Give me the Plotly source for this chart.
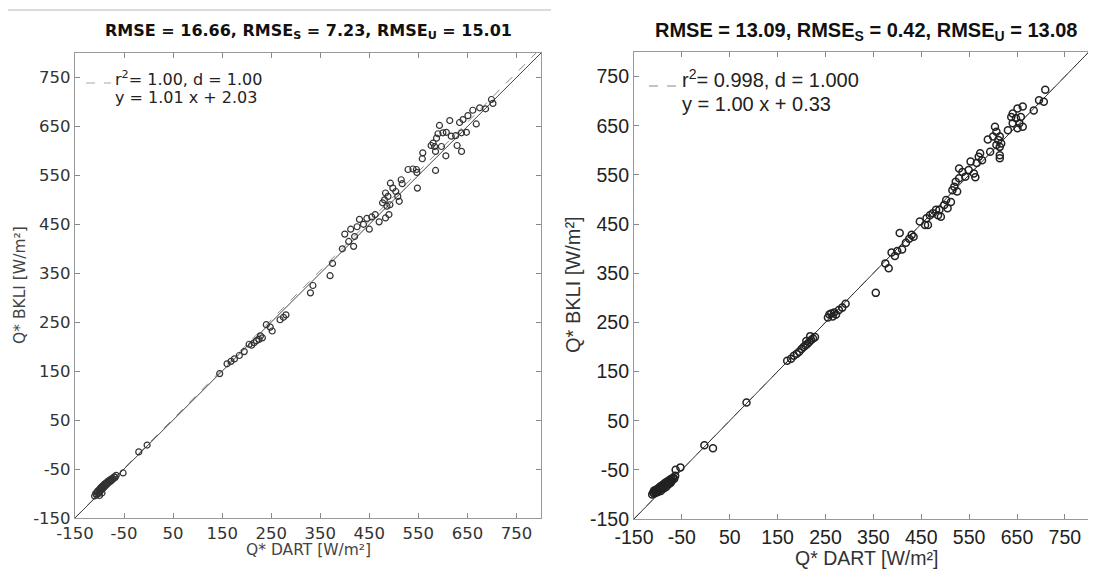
import plotly.graph_objects as go

# ---------------- data ----------------
tick_vals = [-150, -50, 50, 150, 250, 350, 450, 550, 650, 750]
tick_text = ["-150", "-50", "50", "150", "250", "350", "450", "550", "650", "750"]

left_x = [-110, -108, -106, -105, -104, -102, -101, -100, -99, -98, -97, -96, -95, -94, -93, -92, -91, -90,
          -89, -88, -87, -86, -85, -84, -83, -82, -80, -79, -77, -76, -74, -72, -70, -68, -66, -100, -95,
          -52, -20, -3,
          145, 160, 168, 175, 185, 195, 205, 210, 215, 220, 225, 228, 232, 240, 248, 252, 268, 275, 280,
          330, 335, 370, 375,
          395, 400, 408, 412, 418, 420, 425, 430, 438, 445, 450, 455, 462, 470,
          699, 702, 687, 675, 661, 651, 641, 634, 614, 593, 668, 648, 638, 626, 617, 607, 600, 590, 587,
          580, 576, 583, 597, 585, 606, 629, 638, 559, 558, 585, 529, 539, 546, 547, 548, 515, 517, 493,
          498, 504, 508, 511, 483, 488, 481, 477, 492, 486, 490, 483]
left_y = [-105, -100, -103, -98, -95, -100, -93, -97, -90, -94, -88, -92, -86, -90, -84, -88, -82, -86,
          -80, -84, -79, -82, -77, -80, -75, -78, -73, -76, -71, -74, -69, -70, -66, -67, -63, -104, -99,
          -58, -15, -1,
          145, 165, 170, 175, 182, 190, 205, 203, 208, 212, 215, 222, 218, 245, 240, 232, 255, 260, 265,
          310, 325, 345, 370,
          400, 430, 415, 440, 405, 425, 445, 460, 450, 462, 440, 465, 470, 455,
          705, 697, 686, 688, 683, 672, 664, 658, 662, 652, 655, 638, 637, 631, 630, 638, 637, 635, 626,
          616, 611, 609, 609, 599, 590, 611, 599, 596, 584, 560, 562, 563, 562, 556, 524, 541, 533, 534,
          524, 517, 507, 497, 514, 507, 500, 494, 490, 487, 470, 463]

right_x = [-112, -110, -108, -106, -105, -103, -102, -100, -99, -97, -96, -95, -93, -92, -90, -89, -88,
           -86, -85, -84, -82, -81, -80, -78, -77, -75, -74, -72, -70, -68, -66, -64, -108, -100, -94,
           -88, -83, -78, -73,
           -63, -53, -3, 15, 85,
           170, 178, 184, 190, 195, 200, 204, 208, 212, 216, 220, 224, 228, 218, 210,
           255, 258, 262, 265, 268, 272, 278, 285, 292,
           355, 375, 382, 388, 395, 400, 405, 410, 418, 425, 430,
           709, 696, 706, 685, 662, 651, 641, 638, 648, 658, 655, 651, 662, 641, 631,
           604, 607, 614, 611, 617, 607, 614, 600, 589, 594, 614, 614, 573, 577, 570, 566, 553,
           529, 536, 549, 560, 563, 542, 529, 522, 519, 515, 525,
           502, 512, 498, 505, 488, 481, 474, 485, 491, 468, 461, 447, 458, 464, 434]
right_y = [-100, -96, -98, -93, -97, -90, -94, -88, -92, -86, -90, -84, -88, -82, -86, -80, -84,
           -78, -82, -76, -80, -74, -78, -72, -76, -70, -74, -68, -71, -66, -68, -62, -92, -95, -93,
           -88, -85, -80, -76,
           -50, -45, 0, -6, 87,
           172, 176, 182, 186, 190, 196, 200, 203, 206, 210, 214, 217, 220, 222, 212,
           260, 266, 268, 262, 270, 266, 275, 280, 288,
           310, 370, 360, 392, 385, 395, 432, 398, 412, 420, 428,
           723, 702, 699, 681, 689, 685, 675, 668, 665, 668, 655, 645, 648, 655, 641,
           648, 638, 628, 621, 614, 611, 607, 628, 622, 597, 590, 584, 594, 580, 587, 574, 577,
           563, 556, 560, 553, 545, 546, 543, 536, 526, 519, 516,
           499, 495, 489, 482, 479, 479, 472, 468, 465, 468, 462, 455, 448, 448, 424]

left_fit = (1.01, 2.03)
right_fit = (1.00, 0.33)
line_x = [-150, 820]

left_title = "RMSE = 16.66, RMSE<sub>S</sub> = 7.23, RMSE<sub>U</sub> = 15.01"
right_title = "RMSE = 13.09, RMSE<sub>S</sub> = 0.42, RMSE<sub>U</sub> = 13.08"
left_stats = ["r<sup>2</sup>= 1.00, d = 1.00", "y = 1.01 x + 2.03"]
right_stats = ["r<sup>2</sup>= 0.998, d = 1.000", "y = 1.00 x + 0.33"]
x_label = "Q* DART [W/m²]"
y_label = "Q* BKLI [W/m²]"

# ---------------- figure ----------------
# page body has an 8px margin; size the figure so that the page does not scroll
OFF = 8
W, H = 1096 - OFF, 578 - 2 * OFF
def px(x): return (x - OFF) / W
def py(y): return (H - (y - OFF)) / H

fig = go.Figure()

fig.add_trace(go.Scatter(x=line_x, y=[left_fit[0] * v + left_fit[1] for v in line_x], mode="lines",
                         line=dict(color="#8a8a8a", width=1, dash="dash"), xaxis="x", yaxis="y",
                         showlegend=False, hoverinfo="skip"))
fig.add_trace(go.Scatter(x=line_x, y=line_x, mode="lines", line=dict(color="#444", width=1),
                         xaxis="x", yaxis="y", showlegend=False, hoverinfo="skip"))
fig.add_trace(go.Scatter(x=left_x, y=left_y, mode="markers", xaxis="x", yaxis="y", showlegend=False,
                         marker=dict(symbol="circle-open", size=6, color="#333", line=dict(width=1.2))))

fig.add_trace(go.Scatter(x=line_x, y=[right_fit[0] * v + right_fit[1] for v in line_x], mode="lines",
                         line=dict(color="#8a8a8a", width=1, dash="dash"), xaxis="x2", yaxis="y2",
                         showlegend=False, hoverinfo="skip"))
fig.add_trace(go.Scatter(x=line_x, y=line_x, mode="lines", line=dict(color="#333", width=1),
                         xaxis="x2", yaxis="y2", showlegend=False, hoverinfo="skip"))
fig.add_trace(go.Scatter(x=right_x, y=right_y, mode="markers", xaxis="x2", yaxis="y2", showlegend=False,
                         marker=dict(symbol="circle-open", size=7, color="#222", line=dict(width=1.5))))

def ax(domain, rng, font, anchor, mirror="ticks"):
    return dict(domain=domain, range=rng, tickvals=tick_vals, ticktext=tick_text, anchor=anchor,
                ticks="inside", ticklen=5, tickcolor="#888", showline=True, linecolor="#999",
                linewidth=1.2, mirror=mirror, showgrid=False, zeroline=False, tickfont=font,
                automargin=False, ticklabeloverflow="allow")

lfont = dict(family="DejaVu Sans", size=16.5, color="#333")
rfont = dict(family="Liberation Sans, Arial", size=19.5, color="#222")

fig.update_layout(
    width=W, height=H, margin=dict(l=0, r=0, t=0, b=0, autoexpand=False),
    paper_bgcolor="white", plot_bgcolor="white", showlegend=False,
    xaxis=ax([px(75), px(541)], [-150, 800], lfont, "y"),
    yaxis=ax([py(518), py(53)], [-150, 800], lfont, "x"),
    xaxis2=ax([px(634), 1.0], [-150, 815], rfont, "y2"),
    yaxis2=ax([py(519), py(52)], [-150, 800], rfont, "x2", mirror=False),
)

def note(text, x, y, font, xanchor="center", angle=0):
    return dict(text=text, x=px(x), y=py(y), xref="paper", yref="paper", xanchor=xanchor,
                yanchor="middle", showarrow=False, textangle=angle, font=font)

lf = dict(family="DejaVu Sans", size=16, color="#222")
rf = dict(family="Liberation Sans, Arial", size=20, color="#222")
ann = [
    note("<b>" + left_title + "</b>", 308, 32, dict(family="DejaVu Sans", size=16, color="#111")),
    note("<b>" + right_title + "</b>", 866, 31, dict(family="Liberation Sans, Arial", size=20, color="#111")),
    note(left_stats[0], 113, 79, lf, "left"),
    note(left_stats[1], 113, 97, lf, "left"),
    note(right_stats[0], 680, 79, rf, "left"),
    note(right_stats[1], 680, 104, rf, "left"),
    note(x_label, 308, 550, dict(family="DejaVu Sans", size=15.5, color="#444")),
    note(x_label, 866, 558, dict(family="Liberation Sans, Arial", size=19.5, color="#333")),
    note(y_label, 20, 285, dict(family="DejaVu Sans", size=15.5, color="#444"), angle=-90),
    note(y_label, 573, 285, dict(family="Liberation Sans, Arial", size=20, color="#333"), angle=-90),
]
fig.update_layout(annotations=ann)

shapes = [
    dict(type="line", xref="paper", yref="paper", x0=px(8), x1=px(551), y0=py(10), y1=py(10),
         line=dict(color="#cfcfcf", width=1.5)),
    dict(type="line", xref="paper", yref="paper", x0=px(86), x1=px(111), y0=py(83), y1=py(83),
         line=dict(color="#aaa", width=1, dash="dash")),
    dict(type="line", xref="paper", yref="paper", x0=px(649), x1=px(679), y0=py(86), y1=py(86),
         line=dict(color="#888", width=1, dash="dash")),
]
fig.update_layout(shapes=shapes)

fig.write_html("out.html")
